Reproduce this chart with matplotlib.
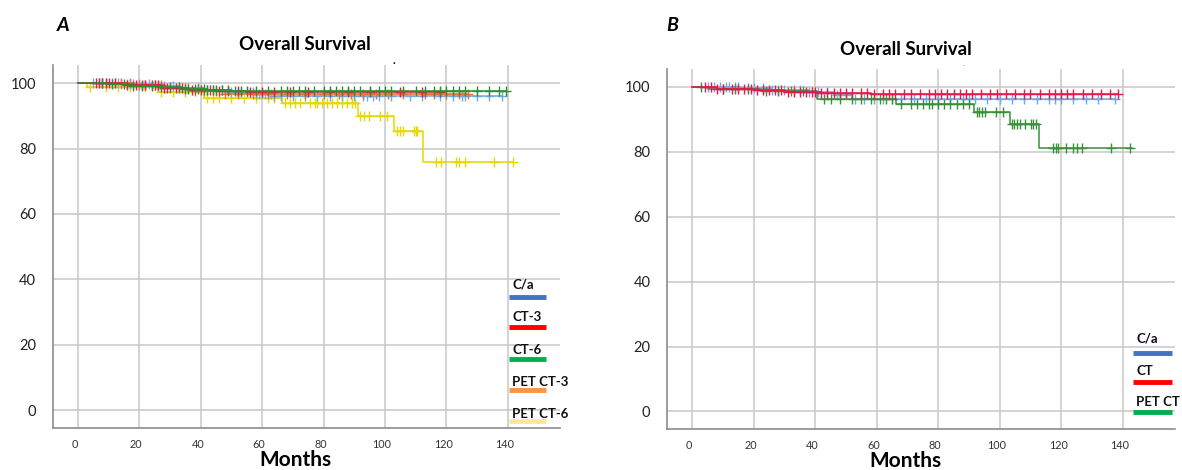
import numpy as np
import matplotlib
matplotlib.use('Agg')
import matplotlib.pyplot as plt
import matplotlib.transforms as mtransforms

plt.rcParams['font.family'] = ['Lato', 'DejaVu Sans']

# ---- Panel A: five groups (step points + censor times) ----
a_labels = ['C/a', 'CT-3', 'CT-6', 'PET CT-3', 'PET CT-6']
a_colors = ['#6fa8e8', '#e8174a', '#2e8b2e', '#f26b2a', '#e6d800']
a_legend_colors = ['#4472c4', '#ff0000', '#00b050', '#f79646', '#ffe699']

ca_a_t = [0, 14, 24, 33, 41, 50, 58, 64, 138]
ca_a_s = [100, 99.6, 99.0, 98.4, 97.8, 97.2, 96.6, 96.1, 96.1]
ca_a_cens = [5, 7, 8, 9, 11, 12, 13, 14, 16, 17, 18, 20, 23, 26, 28, 31, 33, 36, 39,
             42, 44, 47, 50, 52, 53, 55, 57, 58, 59, 60, 61, 63, 64, 66, 70, 74, 78,
             82, 86, 90, 93, 94, 96, 98, 102, 108, 112, 118, 122, 125, 126, 130,
             134, 138]

ct3_a_t = [0, 16, 27, 36, 45, 56, 118]
ct3_a_s = [100, 99.5, 98.6, 97.9, 97.5, 97.2, 97.2]
ct3_a_cens = [6, 7, 8, 9, 10, 12, 16, 19, 21, 22, 24, 25, 26, 28, 29, 32, 34, 37, 40,
              43, 46, 49, 52, 56, 60, 64, 69, 75, 82, 88, 95, 105, 112, 118]

ct6_a_t = [0, 10, 18, 26, 34, 42, 50, 139.3]
ct6_a_s = [100, 99.6, 99.1, 98.7, 98.3, 98.0, 97.6, 97.6]
ct6_a_cens = [8, 11, 15, 18, 21, 24, 27, 30, 33, 35, 36, 38, 39, 41, 42, 44, 45, 47,
              49, 51, 53, 55, 58, 62, 66, 68, 70, 72, 74, 77, 80, 82, 84, 86, 88, 90,
              92, 95, 98, 100, 102, 106, 110, 113, 116, 118, 120, 122, 124, 126,
              130, 134, 137, 139.3]

pet3_a_t = [0, 18, 28, 38, 48, 127]
pet3_a_s = [100, 99.4, 98.5, 97.6, 96.8, 96.8]
pet3_a_cens = [14, 17, 20, 22, 25, 27, 30, 33, 35, 38, 41, 45, 48, 52, 57, 62, 68,
               74, 80, 85, 89, 93, 97, 101, 106, 113, 116, 120, 124, 127]

pet6_a_t = [0, 3, 26, 41, 66.3, 91.2, 103, 112.3, 141.7]
pet6_a_s = [100, 98.8, 97.3, 95.6, 93.8, 90.0, 85.3, 75.9, 75.9]
pet6_a_cens = [4, 9, 13, 17, 22, 27, 31, 35, 42, 44, 46, 50, 54, 58, 62, 64,
               67.4, 69.1, 70.7, 72.3, 75.6, 77.2, 77.7, 79.4, 81, 82.6, 84.3, 85.9,
               87.5, 89.2, 90.2, 91.9, 93.3, 94.8, 98.4, 100.5, 103.8, 104.9, 105.8,
               109.4, 110, 110.5, 116.6, 118.2, 123.1, 124.1, 126, 135.5, 141.7]

# ---- Panel B: three groups ----
b_labels = ['C/a', 'CT', 'PET CT']
b_colors = ['#6fa8e8', '#e8174a', '#3a8f3a']
b_legend_colors = ['#4472c4', '#ff0000', '#00b050']

ca_b_t = [0, 16, 26, 38, 46, 52, 137.4]
ca_b_s = [100, 99.5, 99.0, 98.4, 97.4, 96.3, 96.3]
ca_b_cens = [5, 7, 9, 11, 12, 14, 15, 18, 20, 23, 26, 28, 30, 33, 35, 38, 41, 44, 47,
             50, 53, 56, 59, 62, 65, 68, 72, 76, 80, 84, 88, 90, 92, 96, 100, 104, 108,
             112, 116, 118, 120, 124, 128, 132, 137.4]

ct_b_t = [0, 8, 20, 30, 42, 58, 138.6]
ct_b_s = [100, 99.4, 98.9, 98.4, 98.0, 97.7, 97.7]
ct_b_cens = [4, 6, 8, 10, 13, 15, 17, 19, 21, 23, 25, 27, 29, 31, 33, 35, 37, 39, 40,
             42, 44, 46, 48, 50, 52, 55, 57, 59, 62, 64, 66, 69, 71, 74, 77, 79, 81,
             83, 85, 87, 89, 91, 94, 97, 99, 102, 105, 108, 110, 113, 116, 118, 120,
             122, 124, 127, 130, 133, 136, 138.6]

pet_b_t = [0, 5, 22, 40.6, 66.4, 91.6, 103.4, 112.8, 142.9]
pet_b_s = [100, 99.3, 98.6, 96.3, 94.7, 92.1, 88.6, 81.1, 81.1]
pet_b_cens = [3, 10, 14, 18, 24, 28, 32, 36, 43, 45, 48, 52, 55, 58, 61, 63, 65,
              68, 71, 73, 75, 77, 78, 80, 82, 84, 86, 88, 90, 92.5, 93.3, 94.2, 95.3,
              98.8, 101, 104, 104.8, 105.6, 106.5, 108.1, 110.3, 110.8, 111.7, 117.4,
              118.3, 119, 121.7, 123.9, 125.2, 126.9, 136.2, 142.5]

a_groups = [(ca_a_t, ca_a_s, ca_a_cens), (ct3_a_t, ct3_a_s, ct3_a_cens),
            (ct6_a_t, ct6_a_s, ct6_a_cens), (pet3_a_t, pet3_a_s, pet3_a_cens),
            (pet6_a_t, pet6_a_s, pet6_a_cens)]
b_groups = [(ca_b_t, ca_b_s, ca_b_cens), (ct_b_t, ct_b_s, ct_b_cens),
            (pet_b_t, pet_b_s, pet_b_cens)]

x_ticks = [0, 20, 40, 60, 80, 100, 120, 140]
y_ticks = [0, 20, 40, 60, 80, 100]


def draw_km(ax, t, s, cens, color):
    t = np.asarray(t)
    s = np.asarray(s)
    ax.step(t, s, where='post', color=color, lw=1.1, zorder=3)
    c = np.asarray(cens)
    cy = s[np.searchsorted(t, c, side='right') - 1]
    ax.plot(c, cy, ls='none', marker='+', ms=6.5, mew=1.0, color=color, zorder=3)


def style_axis(ax, xlab_pos):
    ax.set_xlim(-8.2, 157)
    ax.set_ylim(-5.4, 105.5)
    ax.set_xticks(x_ticks)
    ax.set_yticks(y_ticks)
    ax.grid(True, color='#c8c8c8', lw=1.1)
    ax.set_axisbelow(True)
    for sp in ['top', 'right']:
        ax.spines[sp].set_visible(False)
    ax.spines['left'].set_color('#8c8c8c')
    ax.spines['bottom'].set_color('#8c8c8c')
    ax.spines['left'].set_linewidth(1.2)
    ax.spines['bottom'].set_linewidth(1.2)
    ax.tick_params(axis='y', length=0, pad=12, labelsize=10.5, labelcolor='#222222')
    ax.tick_params(axis='x', length=0, pad=8, labelsize=7.8, labelcolor='#333333')
    # tick labels sit a little left of their gridlines in the original
    shift = mtransforms.ScaledTranslation(-3 / 100, 0, fig.dpi_scale_trans)
    for lab in ax.get_xticklabels():
        lab.set_transform(lab.get_transform() + shift)
    ax.set_xlabel('Months', fontsize=15, fontweight='bold', labelpad=0, x=xlab_pos)


def legend_block(ax, labels, colors, x0, x1, y_text, y_bar):
    for lab, col, yt, yb in zip(labels, colors, y_text, y_bar):
        ax.text(x0 + 1, yt, lab, fontsize=9.5, fontweight='bold', color='#111111',
                ha='left', va='center', clip_on=False)
        ax.plot([x0, x1], [yb, yb], color=col, lw=3.5, solid_capstyle='butt',
                clip_on=False, zorder=4)


fig = plt.figure(figsize=(11.82, 4.70), dpi=100)
ax_a = fig.add_axes([0.0446, 0.090, 0.4292, 0.7713])
ax_b = fig.add_axes([0.5643, 0.0872, 0.4297, 0.7660])

style_axis(ax_a, 0.478)
style_axis(ax_b, 0.47)

order_a = [4, 0, 3, 1, 2]
for i in order_a:
    t, s, c = a_groups[i]
    draw_km(ax_a, t, s, c, a_colors[i])

order_b = [0, 2, 1]
for i in order_b:
    t, s, c = b_groups[i]
    draw_km(ax_b, t, s, c, b_colors[i])

# legends drawn inside the plot area, label above a coloured bar
legend_block(ax_a, a_labels, a_legend_colors, 140.5, 152.5,
             [38.5, 28.5, 18.5, 8.6, -1.2], [34.7, 25.5, 15.7, 6.2, -3.3])
legend_block(ax_b, b_labels, b_legend_colors, 143.5, 156,
             [22.5, 12.6, 3.0], [18.0, 9.2, -0.2])

ax_a.set_title('Overall Survival', fontsize=13.5, fontweight='bold', pad=11, x=0.498)
ax_b.set_title('Overall Survival', fontsize=13.5, fontweight='bold', pad=10, x=0.47)

fig.text(0.048, 0.945, 'A', fontsize=14, fontweight='bold', style='italic', ha='left', va='center')
fig.text(0.564, 0.946, 'B', fontsize=14, fontweight='bold', style='italic', ha='left', va='center')
# small stray marks above each plot in the original
fig.text(394 / 1182, 1 - 60 / 470, '.', fontsize=8, fontweight='bold', ha='center', va='center')
fig.text(964 / 1182, 1 - 63 / 470, '.', fontsize=6, color='#777777', ha='center', va='center')

fig.savefig('out.png', dpi=100)
